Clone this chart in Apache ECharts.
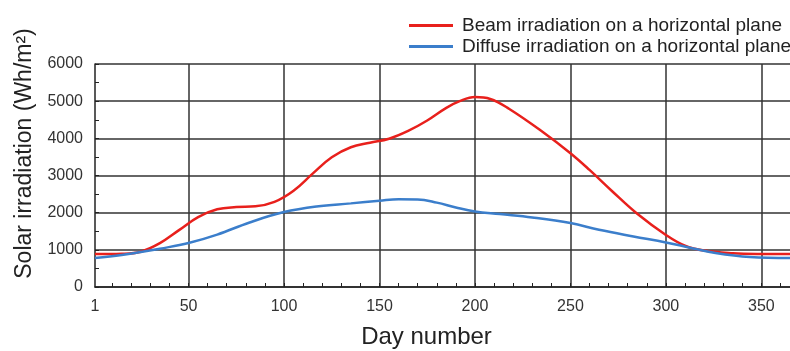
<!DOCTYPE html>
<html>
<head>
<meta charset="utf-8">
<script src="https://cdn.jsdelivr.net/npm/echarts@6/dist/echarts.min.js"></script>
<style>html,body{margin:0;padding:0;background:#fff;}#c{width:790px;height:351px;}</style>
</head>
<body>
<div id="c"></div>
<script>
const beamDays   = [1, 15, 25, 35, 45, 55, 65, 75, 85, 95, 105, 115, 125, 135, 145, 155, 165, 175, 185, 192, 200, 208, 218, 235, 250, 260, 272, 285, 300, 310, 320, 335, 350, 365];
const beamValues = [887, 895, 950, 1180, 1530, 1880, 2090, 2150, 2170, 2290, 2590, 3050, 3490, 3760, 3880, 3990, 4200, 4480, 4820, 5000, 5110, 5060, 4790, 4190, 3600, 3150, 2570, 1970, 1400, 1110, 980, 910, 890, 887];
const diffDays   = [1, 15, 25, 35, 50, 65, 82, 100, 117, 135, 150, 160, 170, 180, 190, 200, 213, 230, 250, 265, 283, 300, 312, 326, 344, 365];
const diffValues = [780, 860, 940, 1030, 1183, 1410, 1737, 2016, 2167, 2250, 2320, 2360, 2355, 2270, 2140, 2032, 1962, 1871, 1720, 1540, 1360, 1199, 1065, 914, 806, 780];
const xLabelTicks = [1, 50, 100, 150, 200, 250, 300, 350];
const xMinorTicks = [10,20,30,40,50,60,70,80,90,100,110,120,130,140,150,160,170,180,190,200,210,220,230,240,250,260,270,280,290,300,310,320,330,340,350,360];
const xGridTicks = [50, 100, 150, 200, 250, 300, 350];
const seriesNames = ['Beam irradiation on a horizontal plane', 'Diffuse irradiation on a horizontal plane'];

const font = 'Liberation Sans, Arial, sans-serif';
const chart = echarts.init(document.getElementById('c'));
chart.setOption({
  animation: false,
  textStyle: { fontFamily: font },
  legend: {
    orient: 'vertical',
    left: 404,
    top: 11,
    itemWidth: 44,
    itemHeight: 3,
    itemGap: 2,
    icon: 'rect',
    textStyle: { fontSize: 19, color: '#222', fontFamily: font, padding: [0, 0, 0, 4] },
    data: seriesNames
  },
  grid: { left: 95, top: 64, right: 0, bottom: 64, containLabel: false, outerBoundsMode: 'none' },
  xAxis: [{
    type: 'value', min: 1, max: 365,
    name: 'Day number', nameLocation: 'middle', nameGap: 38,
    nameTextStyle: { fontSize: 24, color: '#222', fontFamily: font, padding: [0, 32, 0, 0] },
    axisLine: { lineStyle: { color: '#222', width: 1.5 } },
    axisTick: { inside: true, length: 4, customValues: xMinorTicks, lineStyle: { color: '#222' } },
    axisLabel: { customValues: xLabelTicks, fontSize: 16, color: '#333', margin: 12, fontFamily: font },
    splitLine: { show: false }
  }, {
    type: 'value', min: 1, max: 365,
    axisLine: { show: false },
    axisTick: { show: false, customValues: xGridTicks },
    axisLabel: { show: false },
    splitLine: { show: true, lineStyle: { color: '#333', width: 1.5 } }
  }],
  yAxis: {
    type: 'value', min: 0, max: 6000, interval: 1000,
    name: 'Solar irradiation (Wh/m²)', nameLocation: 'middle', nameGap: 50,
    nameTextStyle: { fontSize: 23, color: '#222', fontFamily: font, padding: [0, 0, 0, 44] },
    axisLine: { show: true, lineStyle: { color: '#222', width: 1.5 } },
    axisTick: { show: true, inside: true, length: 4, lineStyle: { color: '#222' } },
    minorTick: { show: true, splitNumber: 2, length: 4, lineStyle: { color: '#222' } },
    axisLabel: { fontSize: 16, color: '#333', margin: 12, fontFamily: font, formatter: v => String(v) },
    splitLine: { show: true, lineStyle: { color: '#333', width: 1.5 } }
  },
  series: [{
    name: seriesNames[0], type: 'line', xAxisIndex: 0, smooth: 0.4, symbol: 'none',
    color: '#e8201c', lineStyle: { width: 2.5, color: '#e8201c' },
    data: beamDays.map((d, i) => [d, beamValues[i]])
  }, {
    name: seriesNames[1], type: 'line', xAxisIndex: 0, smooth: 0.4, symbol: 'none',
    color: '#3b7ecb', lineStyle: { width: 2.5, color: '#3b7ecb' },
    data: diffDays.map((d, i) => [d, diffValues[i]])
  }]
});
</script>
</body>
</html>
